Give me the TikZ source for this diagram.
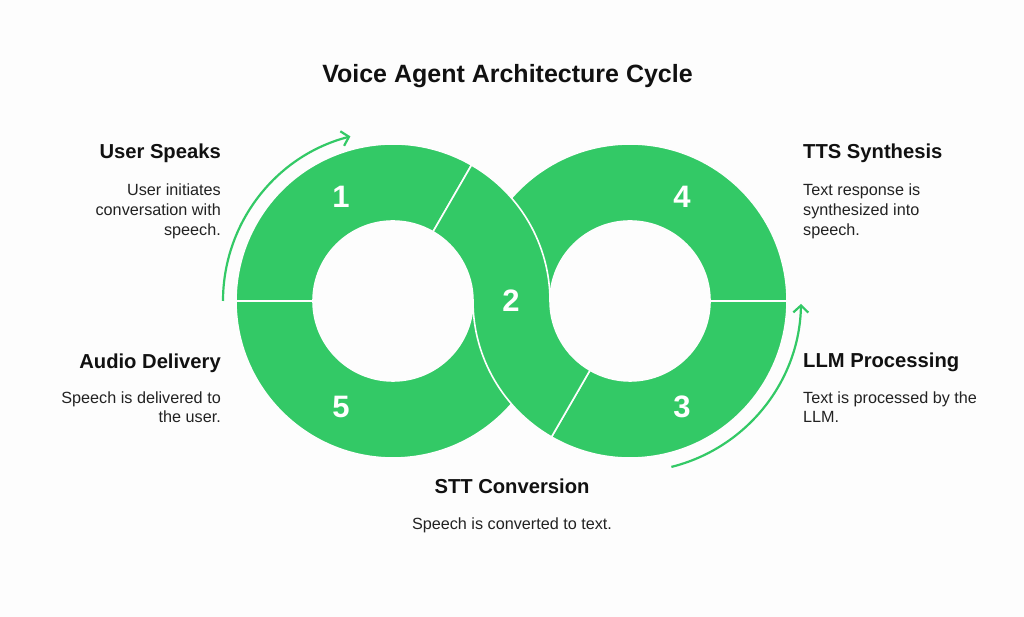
\documentclass[tikz,border=0pt]{standalone}
\usepackage{fontspec}
\setmainfont{Liberation Sans}
\usetikzlibrary{arrows.meta}
\definecolor{vgreen}{RGB}{51,201,102}
\definecolor{bgc}{RGB}{253,253,253}
\definecolor{headc}{RGB}{17,17,17}
\definecolor{descc}{RGB}{34,34,34}
\begin{document}
\begin{tikzpicture}[x=1pt,y=1pt,
  seg/.style={fill=vgreen, draw=bgc, line width=1.6pt, line join=miter},
  num/.style={text=white, font=\fontsize{31}{31}\selectfont\bfseries, inner sep=0pt},
  titlestyle/.style={text=headc, font=\fontsize{25}{30}\selectfont\bfseries, inner sep=0pt},
  head/.style={text=headc, font=\fontsize{20.2}{24}\selectfont\bfseries, inner sep=0pt},
  desc/.style={text=descc, font=\fontsize{16.2}{20}\selectfont, inner sep=0pt},
  cyc/.style={draw=vgreen, line width=2.2pt, -{Straight Barb[length=7pt,width=15pt,line width=2.2pt]}}
]
\useasboundingbox (0,0) rectangle (1024,617);
\fill[bgc] (0,0) rectangle (1024,617);
\def\RR{157}
\def\rr{80}
\coordinate (L) at (393,316);
\coordinate (Rc) at (630,316);
% segment 4 (right ring, upper half)
\draw[seg] ([shift={(0:\RR)}]Rc) arc[start angle=0,end angle=180,radius=\RR]
  -- ([shift={(180:\rr)}]Rc) arc[start angle=180,end angle=0,radius=\rr] -- cycle;
% segment 5 (left ring, lower half)
\draw[seg] ([shift={(180:\RR)}]L) arc[start angle=180,end angle=360,radius=\RR]
  -- ([shift={(0:\rr)}]L) arc[start angle=360,end angle=180,radius=\rr] -- cycle;
% segment 1 (left ring, 60..180)
\draw[seg] ([shift={(60:\RR)}]L) arc[start angle=60,end angle=180,radius=\RR]
  -- ([shift={(180:\rr)}]L) arc[start angle=180,end angle=60,radius=\rr] -- cycle;
% segment 3 (right ring, 240..360)
\draw[seg] ([shift={(240:\RR)}]Rc) arc[start angle=240,end angle=360,radius=\RR]
  -- ([shift={(0:\rr)}]Rc) arc[start angle=360,end angle=240,radius=\rr] -- cycle;
% segment 2 (S-shape)
\draw[seg] ([shift={(60:\RR)}]L) arc[start angle=60,end angle=0,radius=\RR]
  arc[start angle=180,end angle=240,radius=\rr]
  -- ([shift={(240:\RR)}]Rc) arc[start angle=240,end angle=180,radius=\RR]
  arc[start angle=0,end angle=60,radius=\rr] -- cycle;
% numbers
\node[num] (n1) at (341,420) {1};
\node[num] (n2) at (511,316) {2};
\node[num] (n3) at (682,210) {3};
\node[num] (n4) at (682,420) {4};
\node[num] (n5) at (341,210) {5};
% cycle arrows
\coordinate (a1s) at ([shift={(180:170)}]L);
\coordinate (a2s) at ([shift={(-76:171)}]Rc);
\draw[cyc] (a1s) arc[start angle=180,end angle=104.5,radius=170];
\draw[cyc] (a2s) arc[start angle=-76,end angle=-1,radius=171];
% title
\node[titlestyle, anchor=base] (title) at (507.5,617-82.3) {Voice Agent Architecture Cycle};
% left texts
\node[head, anchor=base east] (h1) at (221,617-158.5) {User Speaks};
\node[desc, anchor=base east] (d1a) at (221,617-196) {User initiates};
\node[desc, anchor=base east] (d1b) at (221,617-216) {conversation with};
\node[desc, anchor=base east] (d1c) at (221,617-235.5) {speech.};
\node[head, anchor=base east] (h5) at (221,617-368.5) {Audio Delivery};
\node[desc, anchor=base east] (d5a) at (221,617-403.3) {Speech is delivered to};
\node[desc, anchor=base east] (d5b) at (221,617-422.5) {the user.};
% right texts
\node[head, anchor=base west] (h4) at (803,617-158.5) {TTS Synthesis};
\node[desc, anchor=base west] (d4a) at (803,617-196) {Text response is};
\node[desc, anchor=base west] (d4b) at (803,617-216) {synthesized into};
\node[desc, anchor=base west] (d4c) at (803,617-235.5) {speech.};
\node[head, anchor=base west] (h3) at (803,617-368) {LLM Processing};
\node[desc, anchor=base west] (d3a) at (803,617-403.3) {Text is processed by the};
\node[desc, anchor=base west] (d3b) at (803,617-422.5) {LLM.};
% bottom
\node[head, anchor=base] (h2) at (512,617-493.3) {STT Conversion};
\node[desc, anchor=base] (d2) at (512,617-530) {Speech is converted to text.};
\end{tikzpicture}
\end{document}
